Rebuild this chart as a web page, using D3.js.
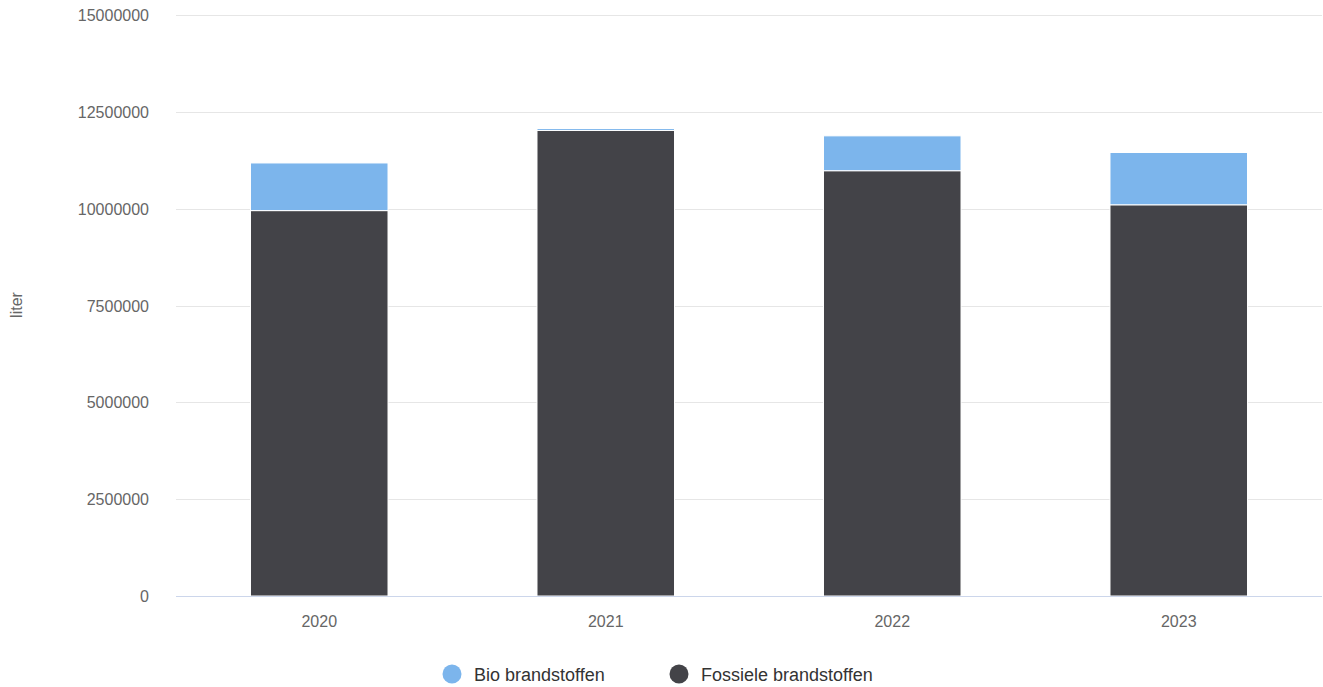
<!DOCTYPE html>
<html lang="nl">
<head>
    <meta charset="utf-8">
    <title>Brandstoffen</title>
    <script src="https://cdn.jsdelivr.net/npm/d3@7"></script>
    <style>
        body { margin: 0; background: #fff; }
        text { font-family: "Liberation Sans", Arial, sans-serif; }
    </style>
</head>
<body>
    <svg width="1323" height="687"></svg>
    <script>
        // data
        var years = ["2020", "2021", "2022", "2023"];
        var fossiel = [9950000, 12020000, 10980000, 10100000];
        var bio = [1230000, 50000, 900000, 1350000];
        var yTicks = [0, 2500000, 5000000, 7500000, 10000000, 12500000, 15000000];
        var seriesNames = ["Bio brandstoffen", "Fossiele brandstoffen"];
        var colors = ["#7cb5ec", "#434348"];

        var svg = d3.select("svg");
        var plotLeft = 176, plotRight = 1322, plotTop = 15, plotBottom = 596;

        var x = d3.scaleBand().domain(years).range([plotLeft, plotRight]).paddingInner(0.52).paddingOuter(0.26);
        var y = d3.scaleLinear().domain([0, 15000000]).range([plotBottom, plotTop]);

        // grid
        svg.append("g").selectAll("line")
            .data(yTicks.slice(1))
            .enter().append("line")
            .attr("x1", plotLeft).attr("x2", plotRight)
            .attr("y1", function (d) { return Math.round(y(d)) + 0.5; })
            .attr("y2", function (d) { return Math.round(y(d)) + 0.5; })
            .attr("stroke", "#e6e6e6");

        // y labels
        svg.append("g").selectAll("text")
            .data(yTicks)
            .enter().append("text")
            .attr("x", 149)
            .attr("y", function (d) { return y(d) + 6; })
            .attr("text-anchor", "end")
            .attr("fill", "#666")
            .attr("font-size", "16px")
            .text(function (d) { return d; });

        svg.append("text")
            .attr("transform", "translate(22,305) rotate(-90)")
            .attr("text-anchor", "middle")
            .attr("fill", "#666")
            .attr("font-size", "16px")
            .text("liter");

        // stacked bars
        var rows = years.map(function (yr, i) { return { year: yr, fossiel: fossiel[i], bio: bio[i] }; });
        var stack = d3.stack().keys(["fossiel", "bio"])(rows);
        var colorOf = { fossiel: colors[1], bio: colors[0] };

        svg.append("g").selectAll("g")
            .data(stack)
            .enter().append("g")
            .attr("fill", function (s) { return colorOf[s.key]; })
            .selectAll("rect")
            .data(function (s) { return s; })
            .enter().append("rect")
            .attr("x", function (d) { return x(d.data.year); })
            .attr("width", x.bandwidth())
            .attr("y", function (d) { return y(d[1]); })
            .attr("height", function (d) { return y(d[0]) - y(d[1]); })
            .attr("stroke", "#fff")
            .attr("stroke-width", 1);

        // x axis line
        svg.append("line")
            .attr("x1", plotLeft).attr("x2", plotRight)
            .attr("y1", plotBottom + 0.5).attr("y2", plotBottom + 0.5)
            .attr("stroke", "#ccd6eb");

        svg.append("g").selectAll("text")
            .data(years)
            .enter().append("text")
            .attr("x", function (d) { return x(d) + x.bandwidth() / 2; })
            .attr("y", 627)
            .attr("text-anchor", "middle")
            .attr("fill", "#666")
            .attr("font-size", "16px")
            .text(function (d) { return d; });

        // legend
        var legendX = [452, 679];
        var legend = svg.append("g").selectAll("g")
            .data(seriesNames)
            .enter().append("g")
            .attr("transform", function (d, i) { return "translate(" + legendX[i] + ",674)"; });
        legend.append("circle").attr("r", 9.5)
            .attr("fill", function (d, i) { return colors[i]; });
        legend.append("text")
            .attr("x", 22).attr("y", 6.5)
            .attr("fill", "#333")
            .attr("font-size", "18px")
            .text(function (d) { return d; });
    </script>
</body>
</html>
